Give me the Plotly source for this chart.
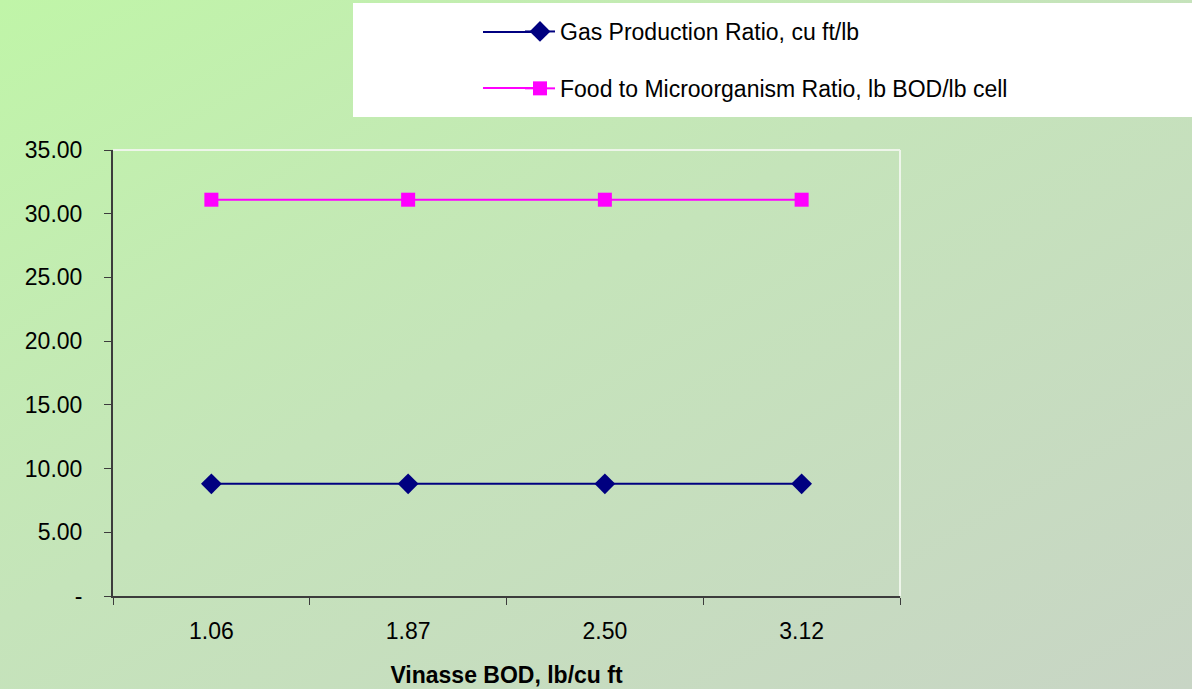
import base64
import plotly.graph_objects as go

# Vinasse BOD loadings (category axis) and the two ratios plotted against them
bod_labels = ["1.06", "1.87", "2.50", "3.12"]
gas_production_ratio = [8.8, 8.8, 8.8, 8.8]
food_to_microorganism = [31.1, 31.1, 31.1, 31.1]

y_tick_vals = [0, 5, 10, 15, 20, 25, 30, 35]
y_tick_text = ["-", "5.00", "10.00", "15.00", "20.00", "25.00", "30.00", "35.00"]

GAS_COLOR = "#000080"
FM_COLOR = "#FF00FF"

W, H = 1192, 689
ML, MR, MT, MB = 113, 292, 150, 93
PW, PH = W - ML - MR, H - MT - MB

FONT = "Liberation Sans, Arial, sans-serif"


def px(x):
    """Horizontal pixel position -> paper coordinate."""
    return (x - ML) / PW


def py(y):
    """Vertical pixel position (from top) -> paper coordinate."""
    return (H - MB - y) / PH


# Soft green-to-grey page background as an SVG gradient
bg_svg = (
    f'<svg xmlns="http://www.w3.org/2000/svg" width="{W}" height="{H}">'
    '<defs><linearGradient id="g" x1="0" y1="0" x2="1" y2="1">'
    '<stop offset="0" stop-color="#C0F5A8"/>'
    '<stop offset="0.45" stop-color="#C5E4BA"/>'
    '<stop offset="1" stop-color="#C8D5C5"/>'
    '</linearGradient></defs>'
    '<rect width="100%" height="100%" fill="url(#g)"/></svg>'
)
bg_uri = "data:image/svg+xml;base64," + base64.b64encode(bg_svg.encode()).decode()

fig = go.Figure()

fig.add_trace(go.Scatter(
    x=bod_labels, y=gas_production_ratio,
    name="Gas Production Ratio, cu ft/lb",
    legendgroup="gas",
    mode="lines+markers",
    line=dict(color=GAS_COLOR, width=2),
    marker=dict(symbol="diamond", size=16, color=GAS_COLOR),
))
fig.add_trace(go.Scatter(
    x=bod_labels, y=food_to_microorganism,
    name="Food to Microorganism Ratio, lb BOD/lb cell",
    legendgroup="fm",
    mode="lines+markers",
    line=dict(color=FM_COLOR, width=2),
    marker=dict(symbol="square", size=14, color=FM_COLOR),
))

# longer legend key lines, extending the built-in 30px sample to the left
key_rows = [(32, GAS_COLOR), (88, FM_COLOR)]
key_shapes = [
    dict(type="line", xref="paper", yref="paper",
         x0=px(483), x1=px(545), y0=py(yr), y1=py(yr),
         line=dict(color=c, width=2), layer="below")
    for yr, c in key_rows
]

fig.update_layout(
    width=W, height=H,
    margin=dict(l=ML, r=MR, t=MT, b=MB, autoexpand=False),
    paper_bgcolor="#C6E2BC",
    plot_bgcolor="rgba(0,0,0,0)",
    font=dict(family=FONT, color="#000000"),
    showlegend=True,
    legend=dict(
        x=px(520), y=py(10), xanchor="left", yanchor="top",
        bgcolor="rgba(0,0,0,0)", borderwidth=0,
        font=dict(family=FONT, size=23, color="#000000"),
        tracegroupgap=24, traceorder="grouped",
    ),
    images=[dict(
        source=bg_uri, xref="paper", yref="paper",
        x=px(0), y=py(0), sizex=W / PW, sizey=H / PH,
        xanchor="left", yanchor="top", sizing="stretch", layer="below",
    )],
    shapes=[
        # white legend panel
        dict(type="rect", xref="paper", yref="paper",
             x0=px(353), x1=px(1192), y0=py(117), y1=py(3),
             fillcolor="#FFFFFF", line=dict(width=0), layer="below"),
        # light frame on top and right of plot area
        dict(type="line", xref="paper", yref="paper",
             x0=0, x1=1, y0=1, y1=1,
             line=dict(color="#EEF5EA", width=2), layer="below"),
        dict(type="line", xref="paper", yref="paper",
             x0=1, x1=1, y0=0, y1=1,
             line=dict(color="#EEF5EA", width=2), layer="below"),
    ] + key_shapes,
)

fig.update_xaxes(
    type="category", range=[-0.5, 3.5],
    showline=True, linecolor="#3C3C3C", linewidth=2,
    ticks="outside", tickson="boundaries", ticklen=7,
    tickcolor="#3C3C3C", tickwidth=1,
    showgrid=False, zeroline=False,
    tickfont=dict(family=FONT, size=23, color="#000000"),
    ticklabelstandoff=13,
    title=dict(text="<b>Vinasse BOD, lb/cu ft</b>",
               font=dict(family=FONT, size=23, color="#000000"),
               standoff=24),
    automargin=False,
)
fig.update_yaxes(
    range=[0, 35],
    tickmode="array", tickvals=y_tick_vals, ticktext=y_tick_text,
    showline=True, linecolor="#3C3C3C", linewidth=2,
    ticks="outside", ticklen=7, tickcolor="#3C3C3C", tickwidth=1,
    showgrid=False, zeroline=False,
    tickfont=dict(family=FONT, size=23, color="#000000"),
    ticklabelstandoff=17,
    automargin=False,
)

fig.write_html("out.html")
